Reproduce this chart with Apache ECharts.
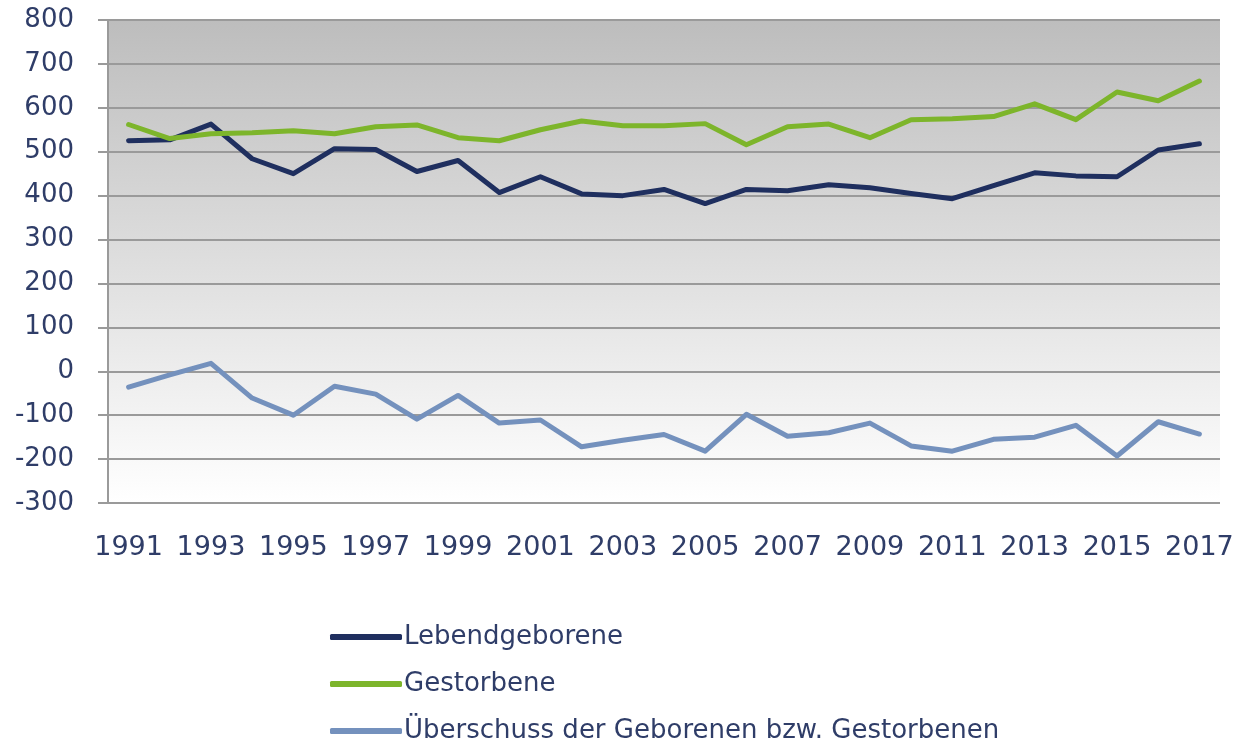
<!DOCTYPE html>
<html>
<head>
<meta charset="utf-8">
<script src="https://cdn.jsdelivr.net/npm/echarts@6/dist/echarts.min.js"></script>
<style>
  html, body { margin: 0; padding: 0; background: #fff; }
  #chart { width: 1237px; height: 740px; }
</style>
</head>
<body>
<div id="chart"></div>
<script>
  var years = ['1991', '1992', '1993', '1994', '1995', '1996', '1997', '1998', '1999', '2000',
    '2001', '2002', '2003', '2004', '2005', '2006', '2007', '2008', '2009', '2010',
    '2011', '2012', '2013', '2014', '2015', '2016', '2017'];
  var lebendgeborene = [525, 527, 563, 484, 450, 507, 505, 455, 480, 407,
    443, 404, 400, 414, 382, 414, 411, 425, 418, 405,
    393, 423, 452, 445, 443, 504, 518];
  var gestorbene = [562, 530, 541, 543, 548, 541, 557, 561, 532, 525,
    550, 570, 559, 559, 564, 516, 557, 563, 532, 573,
    575, 580, 609, 573, 636, 616, 661];
  var ueberschuss = [-36, -8, 18, -61, -100, -34, -52, -109, -55, -118,
    -111, -172, -157, -144, -182, -98, -148, -140, -118, -170,
    -182, -155, -150, -123, -193, -115, -143];

  var labelColor = '#2f3d68';
  var fontFam = '"DejaVu Sans", sans-serif';

  var chart = echarts.init(document.getElementById('chart'));

  function lineSeries(name, data, col) {
    return {
      name: name,
      type: 'line',
      data: data,
      symbol: 'none',
      lineStyle: { color: col, width: 5, cap: 'round', join: 'round' },
      itemStyle: { color: col },
      animation: false
    };
  }

  chart.setOption({
    animation: false,
    grid: {
      left: 108,
      right: 17,
      top: 20,
      bottom: 237,
      show: true,
      borderWidth: 0,
      borderColor: 'transparent',
      backgroundColor: new echarts.graphic.LinearGradient(0, 0, 0, 1, [
        { offset: 0, color: '#bdbdbd' },
        { offset: 1, color: '#ffffff' }
      ])
    },
    xAxis: {
      type: 'category',
      data: years,
      boundaryGap: true,
      axisLine: { show: false },
      axisTick: { show: false },
      axisLabel: {
        interval: 1,
        color: labelColor,
        fontSize: 27,
        fontFamily: fontFam,
        margin: 31
      }
    },
    yAxis: {
      type: 'value',
      min: -300,
      max: 800,
      interval: 100,
      axisLine: { show: true, lineStyle: { color: '#9a9a9a', width: 2 } },
      axisTick: { show: true, length: 10, lineStyle: { color: '#9a9a9a', width: 2 } },
      splitLine: { show: true, lineStyle: { color: '#9a9a9a', width: 2 } },
      axisLabel: {
        color: labelColor,
        fontSize: 26,
        fontFamily: fontFam,
        margin: 34
      }
    },
    legend: {
      orient: 'vertical',
      left: 330,
      top: 624,
      height: 130,
      padding: 0,
      itemWidth: 72,
      itemHeight: 6,
      itemGap: 21,
      icon: 'roundRect',
      textStyle: {
        color: labelColor,
        fontSize: 26,
        fontFamily: fontFam,
        lineHeight: 24,
        padding: [0, 0, 0, -3]
      },
      data: ['Lebendgeborene', 'Gestorbene', 'Überschuss der Geborenen bzw. Gestorbenen']
    },
    series: [
      lineSeries('Lebendgeborene', lebendgeborene, '#1f2f5f'),
      lineSeries('Gestorbene', gestorbene, '#7db52b'),
      lineSeries('Überschuss der Geborenen bzw. Gestorbenen', ueberschuss, '#7491bd')
    ]
  });
</script>
</body>
</html>
